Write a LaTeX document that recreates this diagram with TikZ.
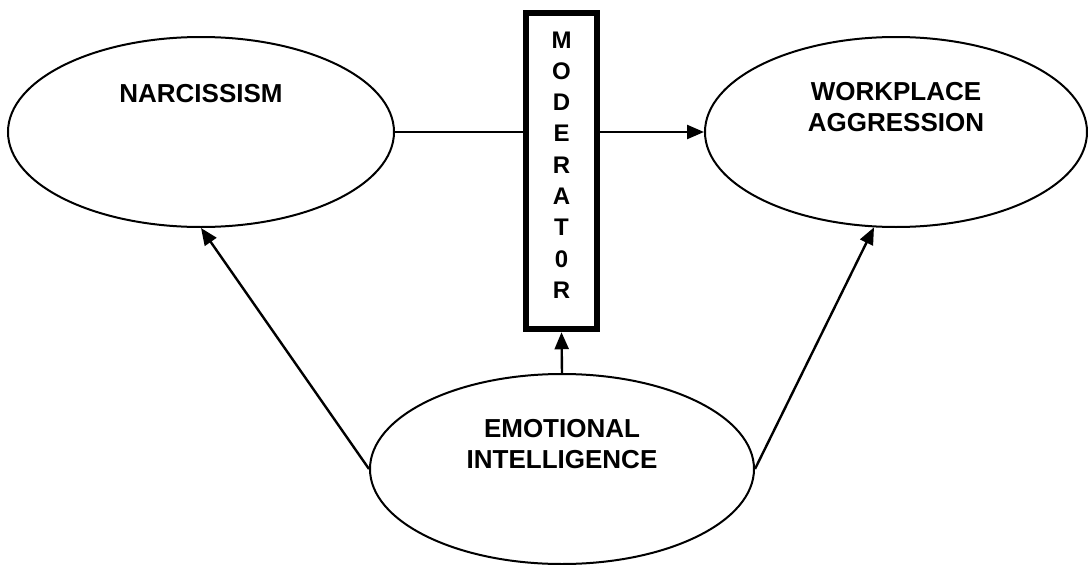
\documentclass[tikz,border=0pt]{standalone}
\usepackage{fontspec}
\setmainfont{Liberation Sans}
\usepackage{tikz}
\usetikzlibrary{arrows.meta, shapes.geometric}

\begin{document}
\begin{tikzpicture}[->,>={Triangle[length=17pt,width=14pt]},line width=2.4pt,x=1pt,y=-1pt,
    font=\bfseries\fontsize{26}{31}\selectfont]
            \tikzset{var/.style={draw, ellipse, line width=2pt, inner sep=0pt, minimum width=386pt, minimum height=190pt}}
            \useasboundingbox (0,0) rectangle (1088,565);
            \node[var, label={[yshift=38.5pt]center:NARCISSISM}] (N) at (201,132) {};
            \node[var, minimum width=382pt, label={[yshift=24.5pt,align=center]center:{WORKPLACE\\AGGRESSION}}] (W) at (896,132) {};
            \node[var, minimum width=384pt, label={[yshift=25pt,align=center]center:{EMOTIONAL\\INTELLIGENCE}}] (E) at (562,469) {};
            \node[draw, line width=6.5pt, inner sep=0pt, minimum width=71pt, minimum height=316pt,
                label={[yshift=6pt,align=center,font=\bfseries\fontsize{24}{31.3}\selectfont]center:{M\\O\\D\\E\\R\\A\\T\\0\\R}}] (M) at (561.5,171) {};
            \path (N.east) edge[-]      (N.east -| M.west);
            \path (N.east -| M.east) edge      (W.west);
            \path (E.north) edge      (M.south);
            \path (E.west) edge      (N.south);
            \path (E.east) edge      (W.257);
        \end{tikzpicture}
\end{document}
